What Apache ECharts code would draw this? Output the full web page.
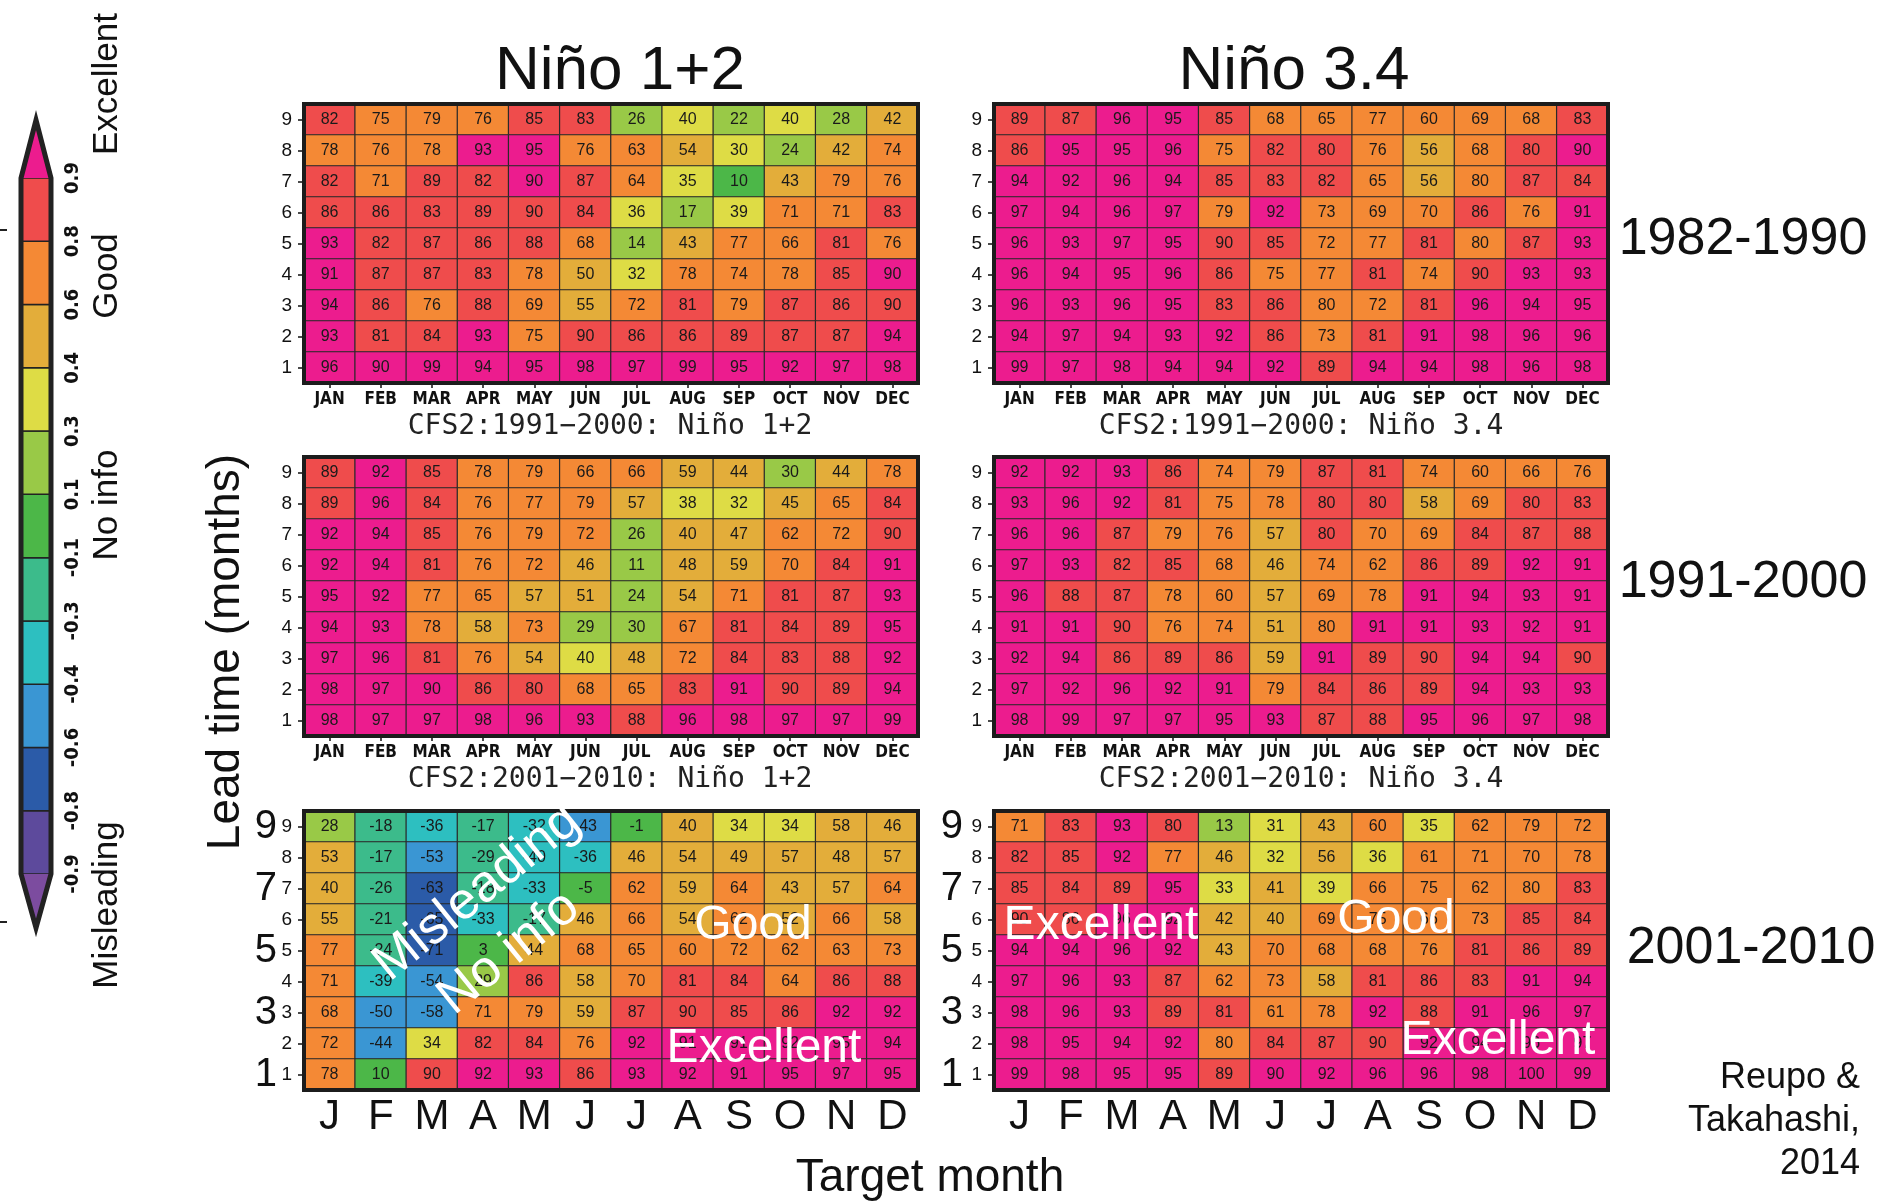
<!DOCTYPE html>
<html><head><meta charset="utf-8">
<script src="https://cdn.jsdelivr.net/npm/echarts@6/dist/echarts.min.js"></script>
<style>html,body{margin:0;padding:0;background:#fff;}#c{width:1881px;height:1202px;}</style>
</head><body><div id="c"></div>
<script>
// ---------- tick labels / categories ----------
const monthsLong = ['JAN','FEB','MAR','APR','MAY','JUN','JUL','AUG','SEP','OCT','NOV','DEC'];
const monthsLetter = ['J','F','M','A','M','J','J','A','S','O','N','D'];
const leadTimes = ['1','2','3','4','5','6','7','8','9'];
const colorBreaks = [-90,-80,-60,-40,-30,-10,10,30,40,60,80,90];
const colorBreakLabels = ['-0.9','-0.8','-0.6','-0.4','-0.3','-0.1','0.1','0.3','0.4','0.6','0.8','0.9'];
const colorClasses = ['#7c4c9f','#5d4a9c','#2b5ba8','#3a96d3','#2dbfc0','#3cbb8b','#4cb748','#99c947','#dedc45','#e3ad3a','#f48935','#ef4c4c','#ec1c8e'];
const colorWords = ['Excellent','Good','No info','Misleading'];

// ---------- anomaly correlation (x100), rows: lead 9 (top) ... lead 1 (bottom), cols JAN..DEC ----------
const nino12_1982_1990 = [
  [82,75,79,76,85,83,26,39.6,22,39.6,28,42],
  [78,76,78,93,95,76,63,54,30.4,24,42,74],
  [82,71,89,82,90.4,87,64,35,9.6,43,79,76],
  [86,86,83,89,89.6,84,36,17,39,71,71,83],
  [93,82,87,86,88,68,14,43,77,66,81,76],
  [91,87,87,83,78,50,32,78,74,78,85,90.4],
  [94,86,76,88,69,55,72,81,79,87,86,89.6],
  [93,81,84,93,75,89.6,86,86,89,87,87,94],
  [96,90.4,99,94,95,98,97,99,95,92,97,98]
];
const nino34_1982_1990 = [
  [89,87,96,95,85,68,65,77,60.4,69,68,83],
  [86,95,95,96,75,82,80.4,76,56,68,80.4,90.4],
  [94,92,96,94,85,83,82,65,56,79.6,87,84],
  [97,94,96,97,79,92,73,69,70,86,76,91],
  [96,93,97,95,89.6,85,72,77,81,79.6,87,93],
  [96,94,95,96,86,75,77,81,74,89.6,93,93],
  [96,93,96,95,83,86,79.6,72,81,96,94,95],
  [94,97,94,93,92,86,73,81,91,98,96,96],
  [99,97,98,94,94,92,89,94,94,98,96,98]
];
const nino12_1991_2000 = [
  [89,92,85,78,79,66,66,59,44,29.6,44,78],
  [89,96,84,76,77,79,57,38,32,45,65,84],
  [92,94,85,76,79,72,26,40.4,47,62,72,89.6],
  [92,94,81,76,72,46,11,48,59,70,84,91],
  [95,92,77,65,57,51,24,54,71,81,87,93],
  [94,93,78,58,73,29,29.6,67,81,84,89,95],
  [97,96,81,76,54,39.6,48,72,84,83,88,92],
  [98,97,90.4,86,80.4,68,65,83,91,89.6,89,94],
  [98,97,97,98,96,93,88,96,98,97,97,99]
];
const nino34_1991_2000 = [
  [92,92,93,86,74,79,87,81,74,60.4,66,76],
  [93,96,92,81,75,78,80.4,80.4,58,69,80.4,83],
  [96,96,87,79,76,57,80.4,70,69,84,87,88],
  [97,93,82,85,68,46,74,62,86,89,92,91],
  [96,88,87,78,60.4,57,69,78,91,94,93,91],
  [91,91,89.6,76,74,51,79.6,91,91,93,92,91],
  [92,94,86,89,86,59,91,89,89.6,94,94,89.6],
  [97,92,96,92,91,79,84,86,89,94,93,93],
  [98,99,97,97,95,93,87,88,95,96,97,98]
];
const nino12_2001_2010 = [
  [28,-18,-36,-17,-32,-43,-1,40.4,34,34,58,46],
  [53,-17,-53,-29,-39.6,-36,46,54,49,57,48,57],
  [40.4,-26,-63,-18,-33,-5,62,59,64,43,57,64],
  [55,-21,-65,-33,-17,46,66,54,62,52,66,58],
  [77,-24,-71,3,44,68,65,60.4,72,62,63,73],
  [71,-39,-54,29,86,58,70,81,84,64,86,88],
  [68,-50,-58,71,79,59,87,89.6,85,86,92,92],
  [72,-44,34,82,84,76,92,91,91,92,95,94],
  [78,9.6,89.6,92,93,86,93,92,91,95,97,95]
];
const nino34_2001_2010 = [
  [71,83,93,80.4,13,31,43,60.4,35,62,79,72],
  [82,85,92,77,46,32,56,36,61,71,70,78],
  [85,84,89,95,33,41,39,66,75,62,79.6,83],
  [89.6,86,96,92,42,40.4,69,75,66,73,85,84],
  [94,94,96,92,43,70,68,68,76,81,86,89],
  [97,96,93,87,62,73,58,81,86,83,91,94],
  [98,96,93,89,81,61,78,92,88,91,96,97],
  [98,95,94,92,79.6,84,87,89.6,92,94,96,97],
  [99,98,95,95,89,90,92,96,96,98,100,99]
];

const panels = [nino12_1982_1990, nino34_1982_1990, nino12_1991_2000, nino34_1991_2000, nino12_2001_2010, nino34_2001_2010];
const panelTitles = ['Niño 1+2','Niño 3.4'];
const subTitles = ['CFS2:1991−2000: Niño 1+2','CFS2:1991−2000: Niño 3.4','CFS2:2001−2010: Niño 1+2','CFS2:2001−2010: Niño 3.4'];
const periods = ['1982-1990','1991-2000','2001-2010'];

// ---------- layout ----------
const SANS = "'Liberation Sans', Arial, Helvetica, sans-serif";
const NARROW = "'Liberation Sans Narrow', 'DejaVu Sans Condensed', 'Liberation Sans', Arial, sans-serif";
const MONO = "'DejaVu Sans Mono', 'Liberation Mono', monospace";
const colLeft = [304, 994];
const rowTop = [104, 457, 811];
const PW = 614, PH = 279;

const grid = [], xAxis = [], yAxis = [], series = [];
panels.forEach((rows, p) => {
  const r = Math.floor(p / 2), c = p % 2;
  const bottomRow = r === 2;
  grid.push({left: colLeft[c], top: rowTop[r], width: PW, height: PH,
    show: true, z: 5, backgroundColor: 'rgba(0,0,0,0)', borderColor: '#1c1c1c', borderWidth: 4});
  xAxis.push({type: 'category', gridIndex: p, data: monthsLong, position: 'bottom',
    axisLine: {show: false}, splitLine: {show: false},
    axisTick: {show: !bottomRow, alignWithLabel: true, length: 5, lineStyle: {color: '#111', width: 1.5}},
    axisLabel: bottomRow
      ? {interval: 0, margin: 6, fontSize: 42, fontFamily: SANS, color: '#111', formatter: (v, i) => monthsLetter[i]}
      : {interval: 0, margin: 8, fontSize: 17, fontWeight: 'bold', fontFamily: NARROW, color: '#111'}
  });
  const yi = yAxis.length;
  yAxis.push({type: 'category', gridIndex: p, data: leadTimes, position: 'left', offset: 0,
    axisLine: {show: false}, splitLine: {show: false},
    axisTick: {show: true, alignWithLabel: true, length: 6, lineStyle: {color: '#111', width: 1.5}},
    axisLabel: {interval: 0, margin: 12, fontSize: 19, fontFamily: SANS, color: '#111'}
  });
  if (bottomRow) {
    yAxis.push({type: 'category', gridIndex: p, data: leadTimes, position: 'left', offset: 0,
      axisLine: {show: false}, splitLine: {show: false}, axisTick: {show: false},
      axisLabel: {margin: c === 0 ? 27 : 31, fontSize: 40, fontFamily: SANS, color: '#111',
        interval: (idx) => idx % 2 === 0}
    });
  }
  const data = [];
  rows.forEach((row, ri) => {
    const lead = 8 - ri;
    row.forEach((v, m) => data.push([m, lead, v]));
  });
  series.push({type: 'heatmap', xAxisIndex: p, yAxisIndex: yi, data,
    itemStyle: {borderColor: '#2a2a2a', borderWidth: 1.2},
    label: {show: true, fontSize: 16, fontFamily: SANS, color: '#1a1a1a',
      formatter: (pp) => String(Math.round(pp.value[2]))},
    emphasis: {disabled: true}
  });
});

// visual map pieces from the class breaks
const pieces = [{lt: colorBreaks[0], color: colorClasses[0]}];
for (let i = 0; i < colorBreaks.length - 1; i++) {
  pieces.push({gte: colorBreaks[i], lt: colorBreaks[i + 1], color: colorClasses[i + 1]});
}
pieces.push({gte: colorBreaks[colorBreaks.length - 1], color: colorClasses[colorClasses.length - 1]});

// ---------- graphic: texts & colour bar ----------
const graphic = [];
function txt(text, x, y, size, opts) {
  opts = opts || {};
  graphic.push({type: 'text', x, y, rotation: opts.rot || 0, z: 20,
    style: {text, fontSize: size, fontFamily: opts.font || SANS, fill: opts.fill || '#111',
      align: opts.align || 'center', verticalAlign: 'middle', fontWeight: opts.weight || 'normal'}});
}
txt(panelTitles[0], 620, 72, 62);
txt(panelTitles[1], 1294, 72, 62);
txt(subTitles[0], 610, 427, 28, {font: MONO, fill: '#222'});
txt(subTitles[1], 1301, 427, 28, {font: MONO, fill: '#222'});
txt(subTitles[2], 610, 780, 28, {font: MONO, fill: '#222'});
txt(subTitles[3], 1301, 780, 28, {font: MONO, fill: '#222'});
txt(periods[0], 1743, 240, 52);
txt(periods[1], 1743, 583, 52);
txt(periods[2], 1751, 949, 52);
txt('Lead time (months)', 226, 652, 46, {rot: Math.PI / 2});
txt('Target month', 930, 1178, 46);
txt('Reupo &', 1860, 1078, 36, {align: 'right'});
txt('Takahashi,', 1860, 1121, 36, {align: 'right'});
txt('2014', 1860, 1164, 36, {align: 'right'});
// white annotations on the 2001-2010 panels
const ang = 39 * Math.PI / 180;
txt(colorWords[3], 477, 893, 52, {rot: ang, fill: '#fff'});
txt(colorWords[2], 509, 953, 52, {rot: ang, fill: '#fff'});
txt(colorWords[1], 753, 926, 48, {fill: '#fff'});
txt(colorWords[0], 764, 1049, 48, {fill: '#fff'});
txt(colorWords[0], 1101, 926, 48, {fill: '#fff'});
txt(colorWords[1], 1396, 920, 48, {fill: '#fff'});
txt(colorWords[0], 1498, 1041, 48, {fill: '#fff'});

// colour bar
const cb = {x0: 21, x1: 51, top: 178, bottom: 874, tipTop: 120, tipBottom: 928};
const nSeg = colorBreaks.length - 1;
const segH = (cb.bottom - cb.top) / nSeg;
const mid = (cb.x0 + cb.x1) / 2;
for (let i = 0; i < nSeg; i++) {
  graphic.push({type: 'rect', z: 10, shape: {x: cb.x0, y: cb.bottom - (i + 1) * segH, width: cb.x1 - cb.x0, height: segH},
    style: {fill: colorClasses[i + 1], stroke: '#222', lineWidth: 1.5}});
}
graphic.push({type: 'polygon', z: 10, shape: {points: [[mid, cb.tipTop], [cb.x1, cb.top], [cb.x0, cb.top]]},
  style: {fill: colorClasses[colorClasses.length - 1]}});
graphic.push({type: 'polygon', z: 10, shape: {points: [[mid, cb.tipBottom], [cb.x1, cb.bottom], [cb.x0, cb.bottom]]},
  style: {fill: colorClasses[0]}});
graphic.push({type: 'polygon', z: 11, shape: {points: [[mid, cb.tipTop], [cb.x1, cb.top], [cb.x1, cb.bottom], [mid, cb.tipBottom], [cb.x0, cb.bottom], [cb.x0, cb.top]]},
  style: {fill: null, stroke: '#222', lineWidth: 5, lineJoin: 'miter'}});
colorBreakLabels.forEach((lab, k) => {
  txt(lab, 73, cb.bottom - k * segH, 20, {rot: Math.PI / 2, font: NARROW, weight: 'bold'});
});
txt(colorWords[0], 107, 84, 35, {rot: Math.PI / 2});
txt(colorWords[1], 107, 276, 35, {rot: Math.PI / 2});
txt(colorWords[2], 107, 505, 35, {rot: Math.PI / 2});
txt(colorWords[3], 107, 905, 35, {rot: Math.PI / 2});
graphic.push({type: 'line', shape: {x1: 0, y1: 230, x2: 7, y2: 230}, style: {stroke: '#222', lineWidth: 2}});
graphic.push({type: 'line', shape: {x1: 0, y1: 922, x2: 7, y2: 922}, style: {stroke: '#222', lineWidth: 2}});

const chart = echarts.init(document.getElementById('c'), null, {renderer: 'canvas'});
chart.setOption({
  animation: false,
  backgroundColor: '#fff',
  grid, xAxis, yAxis, series,
  visualMap: {type: 'piecewise', show: false, dimension: 2, seriesIndex: series.map((s, i) => i), pieces},
  graphic
});
</script></body></html>
